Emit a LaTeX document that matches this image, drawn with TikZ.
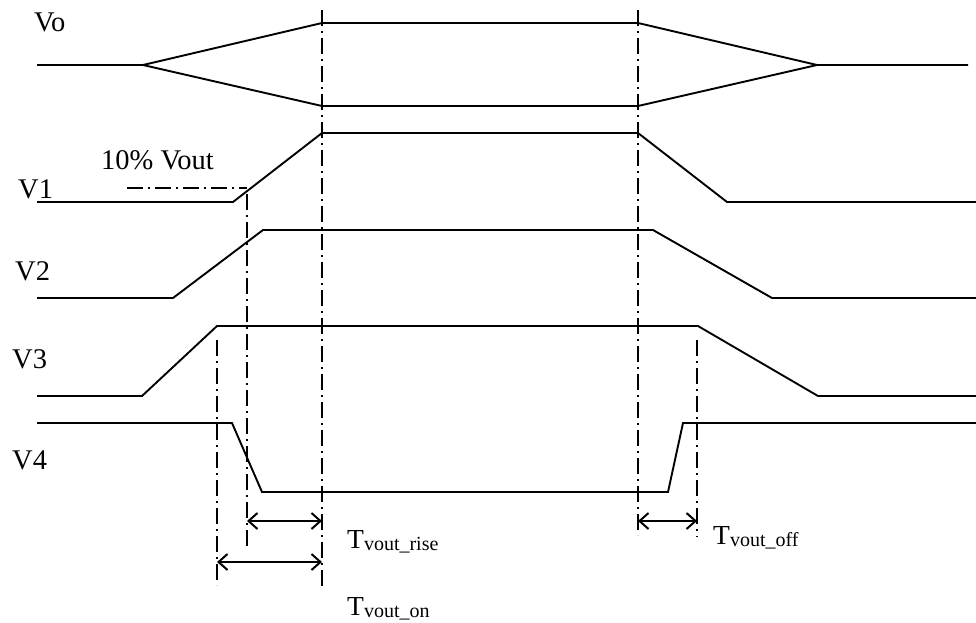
\documentclass[tikz,border=0pt]{standalone}
\usepackage{fontspec}
\setmainfont{Liberation Serif}
\usetikzlibrary{arrows.meta}
\begin{document}
\begin{tikzpicture}[x=1pt,y=-1pt,
  sig/.style={line width=1.9pt, line join=miter},
  guide/.style={line width=1.3pt, dash pattern=on 16pt off 5pt on 2pt off 5pt},
  dimarrow/.style={line width=2pt, {Straight Barb[length=9pt,width=16pt]}-{Straight Barb[length=9pt,width=16pt]}},
  lbl/.style={font=\fontsize{28.5}{30}\selectfont, anchor=base west, inner sep=0pt},
  tlbl/.style={font=\fontsize{27.5}{30}\selectfont, anchor=base west, inner sep=0pt}
]
\useasboundingbox (0,0) rectangle (976,623);
\newcommand{\tlabel}[1]{T\raisebox{-2pt}{\fontsize{20}{22}\selectfont #1}}
% labels
\node[lbl] (vo) at (34,32) {Vo};
\node[lbl] (v1) at (18,198) {V1};
\node[lbl] (pct) at (101,169) {10\% Vout};
\node[lbl] (v2) at (15,280) {V2};
\node[lbl] (v3) at (12,368) {V3};
\node[lbl] (v4) at (12,469) {V4};
\node[tlbl] (trise) at (347,548) {\tlabel{vout\_rise}};
\node[tlbl] (ton) at (347,615) {\tlabel{vout\_on}};
\node[tlbl] (toff) at (713,544) {\tlabel{vout\_off}};
% signals
\draw[sig] (37,65) -- (143,65) -- (322,23) -- (638,23) -- (817,65) -- (968,65);
\draw[sig] (143,65) -- (322,106) -- (638,106) -- (817,65);
\draw[sig] (37,202) -- (233,202) -- (322,133) -- (638,133) -- (727,202) -- (976,202);
\draw[sig] (37,298) -- (173,298) -- (263,230) -- (653,230) -- (772,298) -- (976,298);
\draw[sig] (37,396) -- (142,396) -- (217,326) -- (698,326) -- (818,396) -- (976,396);
\draw[sig] (37,423) -- (232,423) -- (262,492) -- (668,492) -- (683,423) -- (976,423);
% guide coordinates
\coordinate (gA1) at (322,10);  \coordinate (gA2) at (322,590);
\coordinate (gB1) at (638,10);  \coordinate (gB2) at (638,535);
\coordinate (gC1) at (247,194); \coordinate (gC2) at (247,547);
\coordinate (gD1) at (217,340); \coordinate (gD2) at (217,585);
\coordinate (gE1) at (697,340); \coordinate (gE2) at (697,537);
\coordinate (pA) at (127,188);  \coordinate (pB) at (247,188);
\draw[guide] (gA1) -- (gA2);
\draw[guide] (gB1) -- (gB2);
\draw[guide] (gC1) -- (gC2);
\draw[guide] (gD1) -- (gD2);
\draw[guide] (gE1) -- (gE2);
\draw[guide] (pA) -- (pB);
% dimension arrows
\coordinate (rA) at (247,521); \coordinate (rB) at (322,521);
\coordinate (oA) at (217,562); \coordinate (oB) at (322,562);
\coordinate (fA) at (638,521); \coordinate (fB) at (697,521);
\draw[dimarrow] (rA) -- (rB);
\draw[dimarrow] (oA) -- (oB);
\draw[dimarrow] (fA) -- (fB);
\end{tikzpicture}
\end{document}
